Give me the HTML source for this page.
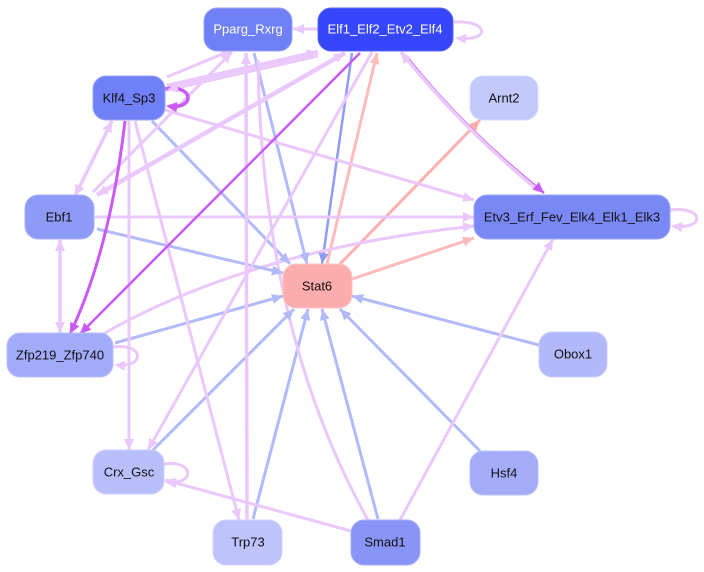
<!DOCTYPE html>
<html><head><meta charset="utf-8"><style>
html,body{margin:0;padding:0;background:#fff;}
svg{display:block;}
text{font-family:"Liberation Sans",sans-serif;font-size:13px;text-anchor:middle;dominant-baseline:central;}
</style></head><body>
<svg id="s" width="704" height="572" viewBox="0 0 704 572" xmlns="http://www.w3.org/2000/svg">
<g id="edges" fill="none" stroke-linecap="butt"></g>
<g id="heads"></g>
<g id="nodes">
<rect x="204" y="8" width="88" height="43" rx="13" fill="#6f7ff6" stroke="#9aa6fb"/><text x="248" y="29" fill="#fff">Pparg_Rxrg</text>
<rect x="318" y="8" width="135" height="43" rx="13" fill="#3646fb" stroke="#5a68fb"/><text x="385" y="29" fill="#fff">Elf1_Elf2_Etv2_Elf4</text>
<rect x="93" y="76" width="72" height="44" rx="13" fill="#7080f6" stroke="#9aa6fb"/><text x="129" y="98" fill="#111">Klf4_Sp3</text>
<rect x="470" y="76" width="68" height="44" rx="13" fill="#c4c9fc" stroke="#d6dafd"/><text x="504" y="98" fill="#111">Arnt2</text>
<rect x="25" y="195" width="69" height="44" rx="13" fill="#8e9af8" stroke="#aab3fa"/><text x="59" y="217" fill="#111">Ebf1</text>
<rect x="474" y="195" width="196" height="44" rx="13" fill="#7a88f6" stroke="#9aa6fb"/><text x="572" y="217" fill="#111">Etv3_Erf_Fev_Elk4_Elk1_Elk3</text>
<rect x="283" y="264" width="69" height="44" rx="13" fill="#fdadad" stroke="#fec4c4"/><text x="317" y="286" fill="#111">Stat6</text>
<rect x="7" y="333" width="106" height="44" rx="13" fill="#a2aafa" stroke="#bbc1fb"/><text x="60" y="355" fill="#111">Zfp219_Zfp740</text>
<rect x="539" y="332" width="68" height="45" rx="13" fill="#b2b9fa" stroke="#c8cdfc"/><text x="573" y="354" fill="#111">Obox1</text>
<rect x="93" y="450" width="71" height="44" rx="13" fill="#b9bffb" stroke="#cdd2fc"/><text x="129" y="472" fill="#111">Crx_Gsc</text>
<rect x="470" y="451" width="68" height="44" rx="13" fill="#a4acfa" stroke="#bcc2fb"/><text x="504" y="473" fill="#111">Hsf4</text>
<rect x="213" y="520" width="69" height="45" rx="13" fill="#bec3fb" stroke="#d0d4fc"/><text x="248" y="542" fill="#111">Trp73</text>
<rect x="351" y="520" width="69" height="45" rx="13" fill="#8894f6" stroke="#a6aef9"/><text x="385" y="542" fill="#111">Smad1</text>
</g>
<script>
var LP="#ebc8fb",BL="#b2baf9",BL2="#8e9cf6",SP="#c95af6",PK="#fdbcbc",PK2="#fdb0b0";
var E=[
["M318 29 L293 29",LP,3,[293,29,318,29],0],
["M167 77 L232 50",LP,3,[232,50,167,77],0],
["M167 86 L318 52",LP,4.5,[318,52,167,86],0],
["M318 56 L167 90",LP,3,[167,90,318,56],0],
["M254 53 L307 264",BL,3,[307,264,254,53],0],
["M352 53 L322 264",BL2,2.5,[322,264,352,53],0],
["M327 264 L377 53",PK,3,[377,53,327,264],0],
["M340 264 L480 120",PK2,3,[480,120,340,264],0],
["M352 279 L474 238",PK,3,[474,238,352,279],0],
["M406 56 Q465 130 544 193",SP,2.5,[544,193,500,155],0],
["M539 191 Q462 128 401 52",LP,3.5,[401,52,430,90],0],
["M165 110 L474 200",LP,3,[474,200,165,110],0],
["M95 217 L474 217",LP,3,[474,217,95,217],0],
["M103 334 Q250 250 474 226",LP,3,[474,226,250,250],0],
["M97 229 L283 273",BL,3,[283,273,97,229],0],
["M152 121 L290 264",BL,3,[290,264,152,121],0],
["M115 343 L283 296",BL,3,[283,296,115,343],0],
["M539 345 L352 296",BL,3,[352,296,539,345],0],
["M480 451 L340 309",BL,3,[340,309,480,451],0],
["M378 519 L322 309",BL,3,[322,309,378,519],0],
["M253 519 L308 309",BL,3,[308,309,253,519],0],
["M153 450 L294 309",BL,3,[294,309,153,450],0],
["M400 520 L553 239",LP,3,[553,239,400,520],0],
["M351 531 L165 480",LP,3,[165,480,351,531],0],
["M129 121 L129 450",LP,3,[129,450,129,121],0],
["M135 121 L239 520",LP,3,[239,520,135,121],0],
["M247 520 L246 53",LP,3.5,[246,53,247,300],0],
["M372 52 L148 450",LP,3,[148,450,372,52],0],
["M368 520 Q262 330 258 60",LP,3,null,0],
["M112 121 L75 196",LP,3.5,[75,196,112,121],[112,121,75,196]],
["M97 195 L345 53",LP,4.5,[345,53,97,195],[97,195,345,53]],
["M93 192 L232 52",LP,3,[232,52,93,192],0],
["M360 53 L80 334",SP,2.5,[80,334,360,53],0],
["M125 121 Q110 250 70 334",SP,3,[70,334,110,250],0],
["M60 240 L60 333",LP,3.5,[60,333,60,240],[60,240,60,333]],
["M454 22 C490 20 490 42 458 38",LP,3,[455,38,480,40],0],
["M670 210 C705 206 705 230 674 226",LP,3,[671,226,690,228],0],
["M165 89 C195 84 195 110 169 106",SP,3.5,[166,106,185,108],0],
["M113 347 C145 343 145 368 117 365",LP,3,[114,365,130,366],0],
["M164 464 C195 460 195 485 168 482",LP,3,[165,482,180,483],0]
];
var g=document.getElementById("edges"),h=document.getElementById("heads"),ns="http://www.w3.org/2000/svg";
function head(a,c){var x=a[0],y=a[1],dx=x-a[2],dy=y-a[3],L=Math.hypot(dx,dy);dx/=L;dy/=L;var l=11,w=5;
var bx=x-dx*l,by=y-dy*l;var p=document.createElementNS(ns,"polygon");
p.setAttribute("points",x+","+y+" "+(bx-dy*w)+","+(by+dx*w)+" "+(bx+dy*w)+","+(by-dx*w));p.setAttribute("fill",c);h.appendChild(p);}
E.forEach(function(e){var p=document.createElementNS(ns,"path");p.setAttribute("d",e[0]);p.setAttribute("stroke",e[1]);p.setAttribute("stroke-width",e[2]);g.appendChild(p);
if(e[3])head(e[3],e[1]);if(e[4])head(e[4],e[1]);});
</script>
</svg>
</body></html>
